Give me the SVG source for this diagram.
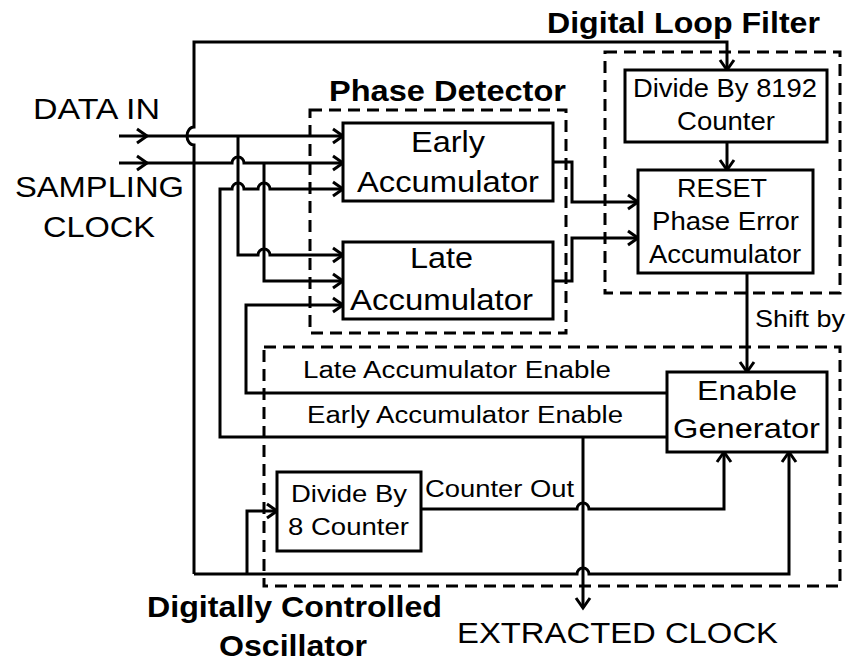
<svg xmlns="http://www.w3.org/2000/svg" width="849" height="661" viewBox="0 0 849 661">
<style>
text{font-family:"Liberation Sans",Arial,sans-serif;fill:#000}
.b{font-weight:bold}
.box{fill:#fff;stroke:#000;stroke-width:3}
.dash{fill:none;stroke:#000;stroke-width:3;stroke-dasharray:12 7}
.w{fill:none;stroke:#000;stroke-width:3;stroke-linejoin:miter}
.a{marker-end:url(#arr)}
</style>
<defs>
<marker id="arr" markerUnits="userSpaceOnUse" markerWidth="20" markerHeight="20" viewBox="-14 -10 20 20" refX="0" refY="0" orient="auto" overflow="visible">
<path d="M-10,-7 L0,0 L-10,7" fill="none" stroke="#000" stroke-width="3"/>
</marker>
</defs>
<rect width="849" height="661" fill="#fff"/>

<g id="groups">
<rect class="dash" x="310" y="110" width="256" height="223"/>
<rect class="dash" x="605" y="52" width="235" height="241"/>
<rect class="dash" x="264" y="347" width="576" height="239"/>
<text class="b" x="329" y="101" font-size="29" textLength="237" lengthAdjust="spacingAndGlyphs">Phase Detector</text>
<text class="b" x="547" y="33" font-size="29" textLength="273" lengthAdjust="spacingAndGlyphs">Digital Loop Filter</text>
<text class="b" x="147" y="617" font-size="30" textLength="295" lengthAdjust="spacingAndGlyphs">Digitally Controlled</text>
<text class="b" x="219" y="656" font-size="30" textLength="148" lengthAdjust="spacingAndGlyphs">Oscillator</text>
</g>

<g id="connectors">
<path class="w" d="M194,574 L194,145 A7,9 0 0 1 194,127 L194,42 L727,42 L727,70" marker-end="url(#arr)"/>
<path class="w" d="M194,574 L577,574 A6,6 0 0 1 589,574 L789,574 L789,452" marker-end="url(#arr)"/>
<path class="w" d="M247,574 L247,511 L277,511" marker-end="url(#arr)"/>
<path class="w" d="M119,136 L147,136" marker-end="url(#arr)"/>
<path class="w" d="M147,136 L343,136" marker-end="url(#arr)"/>
<path class="w" d="M238,136 L238,255 L258,255 A6,6 0 0 1 270,255 L343,255" marker-end="url(#arr)"/>
<path class="w" d="M119,163 L147,163" marker-end="url(#arr)"/>
<path class="w" d="M147,163 L232,163 A6,6 0 0 1 244,163 L343,163" marker-end="url(#arr)"/>
<path class="w" d="M264,163 L264,281 L343,281" marker-end="url(#arr)"/>
<path class="w" d="M667,437 L220,437 L220,189 L232,189 A6,6 0 0 1 244,189 L258,189 A6,6 0 0 1 270,189 L343,189" marker-end="url(#arr)"/>
<path class="w" d="M667,393 L246,393 L246,305 L343,305" marker-end="url(#arr)"/>
<path class="w" d="M553,162 L572,162 L572,202 L638,202" marker-end="url(#arr)"/>
<path class="w" d="M553,281 L572,281 L572,238 L638,238" marker-end="url(#arr)"/>
<path class="w" d="M727,142 L727,170" marker-end="url(#arr)"/>
<path class="w" d="M747,273 L747,372" marker-end="url(#arr)"/>
<path class="w" d="M421,509 L577,509 A6,6 0 0 1 589,509 L724,509 L724,452" marker-end="url(#arr)"/>
<path class="w" d="M583,437 L583,608" marker-end="url(#arr)"/>
<text x="755" y="327" font-size="24" textLength="90" lengthAdjust="spacingAndGlyphs">Shift by</text>
<text x="303" y="378" font-size="23" textLength="308" lengthAdjust="spacingAndGlyphs">Late Accumulator Enable</text>
<text x="307" y="423" font-size="23" textLength="316" lengthAdjust="spacingAndGlyphs">Early Accumulator Enable</text>
<text x="425" y="497" font-size="23" textLength="149" lengthAdjust="spacingAndGlyphs">Counter Out</text>
</g>

<g id="labels">
<text x="33" y="119" font-size="30" textLength="127" lengthAdjust="spacingAndGlyphs">DATA IN</text>
<text x="15" y="197" font-size="30" textLength="169" lengthAdjust="spacingAndGlyphs">SAMPLING</text>
<text x="43" y="237" font-size="30" textLength="112" lengthAdjust="spacingAndGlyphs">CLOCK</text>
<text x="457" y="643" font-size="29" textLength="321" lengthAdjust="spacingAndGlyphs">EXTRACTED CLOCK</text>
</g>

<g id="early-acc">
<rect class="box" x="343" y="123" width="210" height="78"/>
<text x="411" y="152" font-size="29" textLength="74" lengthAdjust="spacingAndGlyphs">Early</text>
<text x="357" y="192" font-size="29" textLength="182" lengthAdjust="spacingAndGlyphs">Accumulator</text>
</g>
<g id="late-acc">
<rect class="box" x="343" y="242" width="210" height="77"/>
<text x="410" y="268" font-size="29" textLength="63" lengthAdjust="spacingAndGlyphs">Late</text>
<text x="350" y="310" font-size="29" textLength="183" lengthAdjust="spacingAndGlyphs">Accumulator</text>
</g>
<g id="div8192">
<rect class="box" x="625" y="70" width="202" height="72"/>
<text x="633" y="97" font-size="25" textLength="184" lengthAdjust="spacingAndGlyphs">Divide By 8192</text>
<text x="677" y="130" font-size="25" textLength="98" lengthAdjust="spacingAndGlyphs">Counter</text>
</g>
<g id="phase-err">
<rect class="box" x="638" y="170" width="175" height="103"/>
<text x="677" y="197" font-size="25" textLength="90" lengthAdjust="spacingAndGlyphs">RESET</text>
<text x="652" y="230" font-size="25" textLength="147" lengthAdjust="spacingAndGlyphs">Phase Error</text>
<text x="649" y="263" font-size="25" textLength="152" lengthAdjust="spacingAndGlyphs">Accumulator</text>
</g>
<g id="enable-gen">
<rect class="box" x="667" y="372" width="160" height="80"/>
<text x="697" y="400" font-size="28" textLength="100" lengthAdjust="spacingAndGlyphs">Enable</text>
<text x="673" y="438" font-size="28" textLength="147" lengthAdjust="spacingAndGlyphs">Generator</text>
</g>
<g id="div8">
<rect class="box" x="277" y="472" width="144" height="79"/>
<text x="291" y="502" font-size="24" textLength="116" lengthAdjust="spacingAndGlyphs">Divide By</text>
<text x="288" y="535" font-size="24" textLength="121" lengthAdjust="spacingAndGlyphs">8 Counter</text>
</g>
</svg>
